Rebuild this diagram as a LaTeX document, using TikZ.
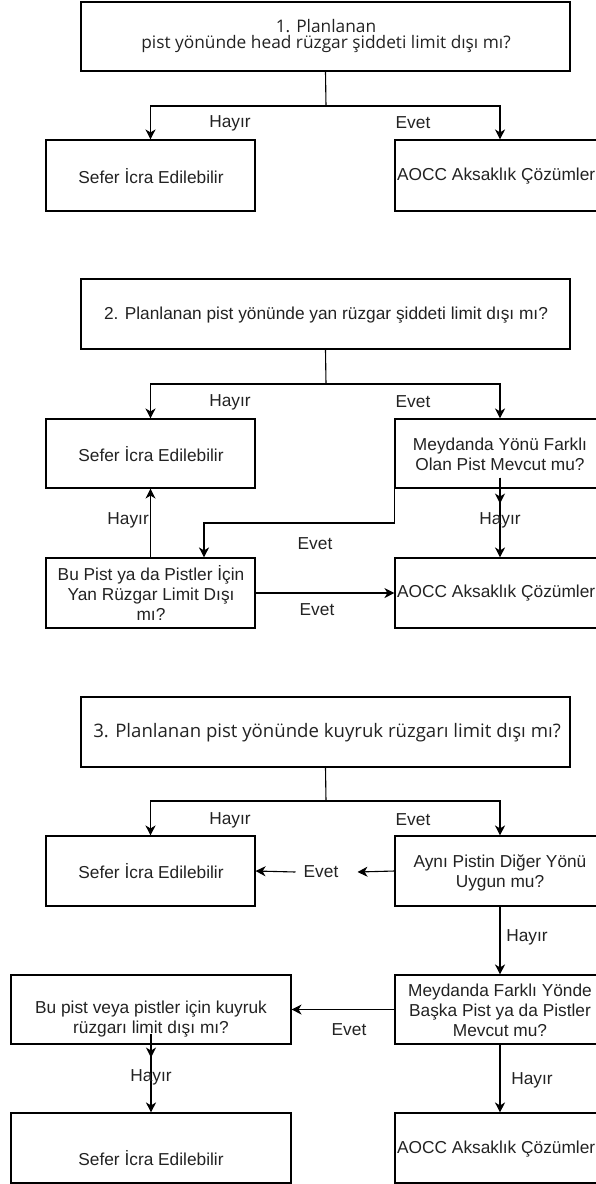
\documentclass[tikz,border=0pt]{standalone}
\usepackage{fontspec}
\setmainfont{Liberation Sans}
\newfontfamily\segoe{Open Sans}
\usetikzlibrary{arrows.meta}
\definecolor{ink}{HTML}{222222}
\begin{document}
\begin{tikzpicture}[x=1pt,y=-1pt,
  every node/.style={font=\fontsize{17.3}{20}\selectfont, inner sep=0pt, text=ink},
  box/.style={draw=black, line width=1.1pt, minimum height=70pt},
  wbox/.style={box, minimum width=209pt},
  rbox/.style={box, minimum width=210pt},
  tbox/.style={box, minimum width=489pt},
  ttl/.style={font=\segoe\fontsize{17.3}{16.5}\selectfont, align=center},
  ttlb/.style={font=\segoe\fontsize{18.6}{20}\selectfont, align=center},
  txt/.style={align=center},
  lbl/.style={},
  conn/.style={line width=1.1pt},
  arr/.style={conn, -{Stealth[length=10pt,width=10pt,inset=3pt]}}
]
\useasboundingbox (0,0) rectangle (596,1184);

% ---------- Section 1 ----------
\node[tbox, minimum height=69pt] (t1) at (325.5,36.5) {};
\node[ttl] (t1t) at (326,36) {1. Planlanan\\pist yönünde head rüzgar şiddeti limit dışı mı?};
\node[wbox, minimum height=71pt] (s1) at (150.5,175.5) {};
\node[txt] (s1t) at (151,176) {Sefer İcra Edilebilir};
\node[rbox, minimum height=71pt] (a1) at (500,175.5) {};
\node[anchor=west] (a1t) at (397,176) {AOCC Aksaklık Çözümler};
\coordinate (j1) at (326,106);
\draw[conn] (t1.south) -- (j1);
\draw[arr] (j1) -| (s1.north);
\draw[arr] (j1) -| (a1.north);
\node[lbl] (h1) at (230,123) {Hayır};
\node[lbl] (e1) at (413,123) {Evet};

% ---------- Section 2 ----------
\node[tbox] (t2) at (325.5,314) {};
\node[txt] (t2t) at (326,315) {2. Planlanan pist yönünde yan rüzgar şiddeti limit dışı mı?};
\node[wbox, minimum height=69pt] (s2) at (150.5,453.5) {};
\node[txt] (s2t) at (151,454) {Sefer İcra Edilebilir};
\node[rbox, minimum height=69pt] (m2) at (500,453.5) {};
\node[txt] (m2t) at (500,454) {Meydanda Yönü Farklı\\Olan Pist Mevcut mu?};
\coordinate (j2) at (326,384);
\draw[conn] (t2.south) -- (j2);
\draw[arr] (j2) -| (s2.north);
\draw[arr] (j2) -| (m2.north);
\node[lbl] (h2) at (230,402) {Hayır};
\node[lbl] (e2) at (413,402) {Evet};

\node[wbox] (b2) at (150.5,593) {};
\node[txt] (b2t) at (151,593) {Bu Pist ya da Pistler İçin\\Yan Rüzgar Limit Dışı\\mı?};
\node[rbox] (a2) at (500,593) {};
\node[anchor=west] (a2t) at (397,593) {AOCC Aksaklık Çözümler};

\coordinate (c2) at (204,523);
\draw[arr] (m2.south west) |- (c2) -- (c2 |- b2.north);
\node[lbl] (e2b) at (315,544) {Evet};
\draw[arr] ([yshift=11pt]m2.south) -- (a2.north);
\draw[arr] ([yshift=11pt]m2.south) -- ([yshift=-15pt]m2.south);
\node[lbl] (h2b) at (500,520) {Hayır};
\draw[arr] (b2.north) -- (s2.south);
\node[lbl, anchor=east] (h2c) at (149,520) {Hayır};
\draw[arr] (b2.east) -- (a2.west);
\node[lbl] (e2c) at (317,610) {Evet};

% ---------- Section 3 ----------
\node[tbox] (t3) at (325.5,732) {};
\node[ttlb] (t3t) at (327,733) {3. Planlanan pist yönünde kuyruk rüzgarı limit dışı mı?};
\node[wbox] (s3) at (150.5,871) {};
\node[txt] (s3t) at (151,871) {Sefer İcra Edilebilir};
\node[rbox] (y3) at (500,871) {};
\node[txt] (y3t) at (500,873) {Aynı Pistin Diğer Yönü\\Uygun mu?};
\coordinate (j3) at (326,801);
\draw[conn] (t3.south) -- (j3);
\draw[arr] (j3) -| (s3.north);
\draw[arr] (j3) -| (y3.north);
\node[lbl] (h3) at (230,820) {Hayır};
\node[lbl] (e3) at (413,820) {Evet};

\node[lbl] (ev3) at (321,872) {Evet};
\draw[arr] (y3.west) -- ([xshift=19pt]ev3.east);
\draw[arr] ([xshift=-8pt]ev3.west) -- (s3.east);

\node[rbox, minimum height=69pt] (m3) at (500,1009.5) {};
\node[txt] (m3t) at (500,1010) {Meydanda Farklı Yönde\\Başka Pist ya da Pistler\\Mevcut mu?};
\draw[arr] (y3.south) -- (m3.north);
\node[lbl] (h3b) at (527,937) {Hayır};

\node[box, minimum width=280pt, minimum height=69pt] (bu3) at (151,1009.5) {};
\node[txt] (bu3t) at (151,1019) {Bu pist veya pistler için kuyruk\\rüzgarı limit dışı mı?};
\draw[arr] (m3.west) -- (bu3.east);
\node[lbl] (e3b) at (349,1030) {Evet};

\node[box, minimum width=280pt] (s4) at (151,1148) {};
\node[txt] (s4t) at (151,1158) {Sefer İcra Edilebilir};
\draw[arr] ([yshift=11pt]bu3.south) -- (s4.north);
\draw[arr] ([yshift=11pt]bu3.south) -- ([yshift=-13pt]bu3.south);
\node[lbl] (h3c) at (151,1077) {Hayır};

\node[rbox] (a3) at (500,1148) {};
\node[anchor=west] (a3t) at (397,1149) {AOCC Aksaklık Çözümler};
\draw[arr] (m3.south) -- (a3.north);
\node[lbl] (h3d) at (532,1080) {Hayır};
\end{tikzpicture}
\end{document}
